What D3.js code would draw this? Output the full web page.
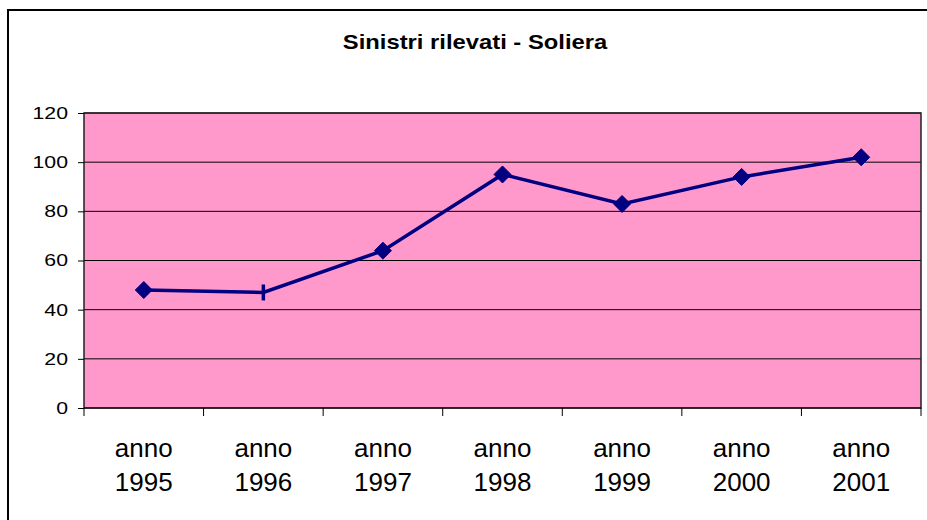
<!DOCTYPE html>
<html lang="it">
<head>
<meta charset="utf-8">
<script src="https://d3js.org/d3.v7.min.js"></script>
<style>
  body { margin: 0; background: white; }
  svg { display: block; font-family: "Liberation Sans", Arial, sans-serif; }
  .grid line { stroke: #000; stroke-width: 1px; }
  .axis path, .axis line { stroke: #000; stroke-width: 1px; }
</style>
</head>
<body>
<svg width="927" height="520"></svg>
<script>
// data
var years = ["1995", "1996", "1997", "1998", "1999", "2000", "2001"];
var sinistri = [48, 47, 64, 95, 83, 94, 102];
var yTicks = [0, 20, 40, 60, 80, 100, 120];
// the 1996 point is drawn with a dash marker, the rest with diamonds
var markerShapes = ["diamond", "dash", "diamond", "diamond", "diamond", "diamond", "diamond"];

var svg = d3.select("svg");
var plot = { left: 84, right: 921, top: 113, bottom: 408 };

// outer chart frame (runs off the right/bottom edge)
svg.append("rect")
    .attr("x", 8).attr("y", 10)
    .attr("width", 960).attr("height", 560)
    .attr("fill", "white")
    .attr("stroke", "#000").attr("stroke-width", 2);

// excel stretched the text a bit horizontally
svg.append("g")
    .attr("transform", "translate(475,49) scale(1.22,1)")
  .append("text")
    .attr("text-anchor", "middle")
    .style("font-weight", "bold")
    .style("font-size", "19.5px")
    .text("Sinistri rilevati - Soliera");

var x = d3.scaleBand().domain(years).range([plot.left, plot.right]);
var y = d3.scaleLinear().domain([0, 120]).range([plot.bottom, plot.top]);

svg.append("rect")
    .attr("x", plot.left).attr("y", plot.top)
    .attr("width", plot.right - plot.left).attr("height", plot.bottom - plot.top)
    .attr("fill", "#ff99cc");

svg.append("g").attr("class", "grid")
  .selectAll("line").data(yTicks.slice(1))
  .join("line")
    .attr("x1", plot.left).attr("x2", plot.right)
    .attr("y1", d => y(d)).attr("y2", d => y(d));

svg.append("rect")
    .attr("x", plot.left).attr("y", plot.top)
    .attr("width", plot.right - plot.left).attr("height", plot.bottom - plot.top)
    .attr("fill", "none")
    .attr("stroke", "#222").attr("stroke-width", 1.5);

// y axis
var yAxis = svg.append("g").attr("class", "axis")
    .attr("transform", "translate(" + plot.left + ",0)")
    .call(d3.axisLeft(y).tickValues(yTicks).tickSize(6));
yAxis.select(".domain").remove();
yAxis.selectAll("text")
    .attr("x", 0)
    .attr("transform", "translate(-16,0) scale(1.25,1)")
    .style("font-size", "17px")
    .style("font-family", "Liberation Sans, Arial, sans-serif")
    .attr("fill", "#000");

// x axis: ticks at band boundaries
var xAxis = svg.append("g").attr("class", "axis");
var bounds = years.map(d => x(d)).concat([plot.right]);
xAxis.append("line")
    .attr("x1", plot.left).attr("x2", plot.right)
    .attr("y1", plot.bottom).attr("y2", plot.bottom);
xAxis.selectAll(".tk").data(bounds).join("line")
    .attr("class", "tk")
    .attr("x1", d => d).attr("x2", d => d)
    .attr("y1", plot.bottom).attr("y2", plot.bottom + 8);

var lbl = svg.append("g").selectAll("text").data(years).join("text")
    .attr("x", d => x(d) + x.bandwidth() / 2)
    .attr("text-anchor", "middle")
    .style("font-size", "26px")
    .attr("fill", "#000");
lbl.append("tspan").attr("x", d => x(d) + x.bandwidth() / 2).attr("y", 457).text("anno");
lbl.append("tspan").attr("x", d => x(d) + x.bandwidth() / 2).attr("y", 491).text(d => d);

// series
var pts = years.map((d, i) => ({ year: d, v: sinistri[i], shape: markerShapes[i] }));
var cx = d => x(d.year) + x.bandwidth() / 2;

svg.append("path")
    .datum(pts)
    .attr("fill", "none")
    .attr("stroke", "#000080")
    .attr("stroke-width", 3.5)
    .attr("d", d3.line().x(cx).y(d => y(d.v)));

svg.append("g").selectAll("path").data(pts).join("path")
    .attr("transform", d => "translate(" + cx(d) + "," + y(d.v) + ")")
    .attr("fill", "#000080")
    .attr("stroke", "#000080")
    .attr("stroke-width", d => d.shape === "dash" ? 3.5 : 1)
    .attr("stroke-linejoin", "round")
    .attr("d", d => d.shape === "dash" ? "M0,-8V8" : "M0,-8.5L8.5,0L0,8.5L-8.5,0Z");
</script>
</body>
</html>
